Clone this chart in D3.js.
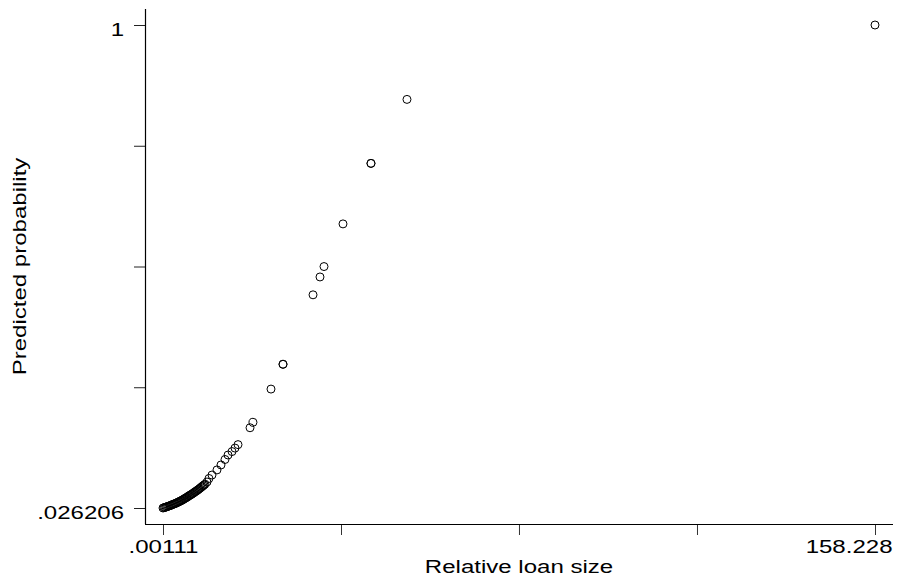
<!DOCTYPE html>
<html>
<head>
<meta charset="utf-8">
<script src="https://cdn.jsdelivr.net/npm/d3@7"></script>
<style>
  body { margin: 0; background: #fff; }
  svg { display: block; }
  text { font-family: "Liberation Sans", Arial, sans-serif; fill: #000; }
</style>
</head>
<body>
<div id="chart"></div>
<script>
// relative loan size vs predicted probability
const loanSize = [
    0.00111, 0.22, 0.44, 0.67, 0.89, 1.11, 1.33, 1.56, 1.78, 2.0, 2.22, 2.44, 2.67, 2.89,
    3.11, 3.33, 3.56, 3.78, 4.0, 4.22, 4.44, 4.67, 4.89, 5.11, 5.33, 5.56, 5.78, 6.0,
    6.22, 6.44, 6.67, 6.89, 7.11, 7.33, 7.56, 7.78, 8.0, 8.22, 8.44, 8.67, 8.89, 9.11,
    9.33, 9.78, 10.22, 10.89, 12.0, 12.89, 13.78, 14.45, 15.34, 16.0, 16.67,
    19.34, 20.0, 24.0, 26.67, 26.67, 33.34, 34.89, 35.78, 40.0, 46.22, 46.22, 54.22, 158.228
];
const predProb = [
    0.0262, 0.0268, 0.0274, 0.0282, 0.0288, 0.0296, 0.0302, 0.0310, 0.0318, 0.0327, 0.0335, 0.0343, 0.0351, 0.0359,
    0.0369, 0.0379, 0.0389, 0.0399, 0.0409, 0.0419, 0.0431, 0.0444, 0.0456, 0.0468, 0.0480, 0.0494, 0.0508, 0.0520,
    0.0532, 0.0544, 0.0558, 0.0573, 0.0587, 0.0601, 0.0615, 0.0629, 0.0645, 0.0661, 0.0677, 0.0694, 0.0710, 0.0726,
    0.0742, 0.0786, 0.0857, 0.0927, 0.103, 0.113, 0.124, 0.133, 0.140, 0.147, 0.154,
    0.188, 0.199, 0.266, 0.316, 0.316, 0.456, 0.492, 0.513, 0.599, 0.721, 0.721, 0.850, 1
];

const xTicks = [0.00111, 39.56, 79.11, 118.67, 158.228];
const xTickLabels = [".00111", "", "", "", "158.228"];
const yTicks = [0.026206, 0.26966, 0.51310, 0.75655, 1];
const yTickLabels = [".026206", "", "", "", "1"];

const width = 899, height = 584;
const plot = { left: 145, right: 893, top: 9, bottom: 524 };
const stretch = 1.3; // Stata text is wide

const svg = d3.select("#chart").append("svg")
    .attr("width", width)
    .attr("height", height);

const x = d3.scaleLinear()
    .domain([xTicks[0], xTicks[4]])
    .range([163, 875]);

const y = d3.scaleLinear()
    .domain([yTicks[0], yTicks[4]])
    .range([508, 25]);

// axes
const xAxisGroup = svg.append("g")
    .attr("transform", `translate(0,${plot.bottom})`)
    .call(d3.axisBottom(x).tickValues(xTicks).tickSize(11)
        .tickFormat((d, i) => xTickLabels[i]));

xAxisGroup.select(".domain").remove();
xAxisGroup.selectAll("line").style("stroke", "#333").style("stroke-width", 1);
xAxisGroup.selectAll("text")
    .style("font-size", "18.5px")
    .attr("y", 16)
    .attr("dy", "0.71em")
    .attr("x", 0)
    .attr("transform", `scale(${stretch},1)`);
xAxisGroup.selectAll("text").filter((d, i) => i === 4)
    .attr("text-anchor", "end")
    .attr("x", 17 / stretch);

const yAxisGroup = svg.append("g")
    .attr("transform", `translate(${plot.left},0)`)
    .call(d3.axisLeft(y).tickValues(yTicks).tickSize(11)
        .tickFormat((d, i) => yTickLabels[i]));

yAxisGroup.select(".domain").remove();
yAxisGroup.selectAll("line").style("stroke", "#222").style("stroke-width", 1);
yAxisGroup.selectAll("text")
    .style("font-size", "18.5px")
    .attr("x", -21 / stretch)
    .attr("dy", 10)
    .attr("transform", `scale(${stretch},1)`);

// plot region edges
svg.append("line")
    .attr("x1", plot.left).attr("x2", plot.right)
    .attr("y1", plot.bottom + 0.5).attr("y2", plot.bottom + 0.5)
    .attr("stroke", "#000").attr("stroke-width", 1.2);

svg.append("line")
    .attr("x1", plot.left + 0.5).attr("x2", plot.left + 0.5)
    .attr("y1", plot.top).attr("y2", plot.bottom)
    .attr("stroke", "#000").attr("stroke-width", 1.2);

// points
svg.append("g")
    .selectAll("circle")
    .data(loanSize.map((v, i) => ({ x: v, y: predProb[i] })))
    .join("circle")
    .attr("cx", d => x(d.x))
    .attr("cy", d => y(d.y))
    .attr("r", 4)
    .attr("fill", "none")
    .attr("stroke", "#000")
    .attr("stroke-width", 1);

// axis titles
svg.append("text")
    .attr("transform", `translate(${(plot.left + plot.right) / 2},573) scale(${stretch},1)`)
    .attr("text-anchor", "middle")
    .style("font-size", "18.5px")
    .text("Relative loan size");

svg.append("text")
    .attr("transform", `translate(26,${(plot.top + plot.bottom) / 2}) rotate(-90) scale(${stretch},1)`)
    .attr("text-anchor", "middle")
    .style("font-size", "18.5px")
    .text("Predicted probability");
</script>
</body>
</html>
